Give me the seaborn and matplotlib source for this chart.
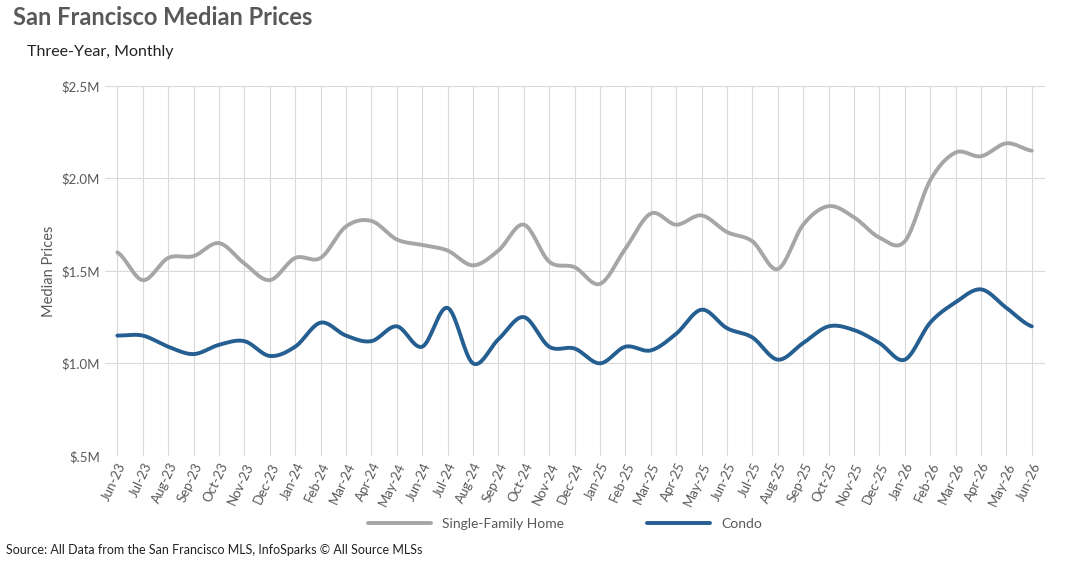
import numpy as np
import pandas as pd
import seaborn as sns
from matplotlib import pyplot as plt
from matplotlib.ticker import FuncFormatter

months = ['Jun-23', 'Jul-23', 'Aug-23', 'Sep-23', 'Oct-23', 'Nov-23', 'Dec-23',
          'Jan-24', 'Feb-24', 'Mar-24', 'Apr-24', 'May-24', 'Jun-24', 'Jul-24',
          'Aug-24', 'Sep-24', 'Oct-24', 'Nov-24', 'Dec-24', 'Jan-25', 'Feb-25',
          'Mar-25', 'Apr-25', 'May-25', 'Jun-25', 'Jul-25', 'Aug-25', 'Sep-25',
          'Oct-25', 'Nov-25', 'Dec-25', 'Jan-26', 'Feb-26', 'Mar-26', 'Apr-26',
          'May-26', 'Jun-26']
sfh = [1.60, 1.45, 1.57, 1.58, 1.65, 1.54, 1.45, 1.57, 1.57, 1.74, 1.77, 1.67,
       1.64, 1.61, 1.53, 1.61, 1.75, 1.55, 1.52, 1.43, 1.62, 1.81, 1.75, 1.80,
       1.71, 1.66, 1.51, 1.75, 1.85, 1.79, 1.68, 1.66, 1.99, 2.14, 2.12, 2.19, 2.15]
condo = [1.15, 1.15, 1.09, 1.05, 1.10, 1.12, 1.04, 1.09, 1.22, 1.15, 1.12, 1.20,
         1.09, 1.30, 1.00, 1.13, 1.25, 1.09, 1.08, 1.00, 1.09, 1.07, 1.16, 1.29,
         1.19, 1.14, 1.02, 1.11, 1.20, 1.18, 1.11, 1.02, 1.22, 1.33, 1.40, 1.30, 1.20]


def smooth(y, n=20):
    # Catmull-Rom curve through the points, like Excel's smoothed line
    y = np.asarray(y, float)
    p = np.concatenate([[y[0]], y, [y[-1]]])
    xs, ys = [], []
    for i in range(len(y) - 1):
        p0, p1, p2, p3 = p[i], p[i + 1], p[i + 2], p[i + 3]
        t = np.linspace(0, 1, n, endpoint=False)
        ys.append(0.5 * (2 * p1 + (-p0 + p2) * t + (2 * p0 - 5 * p1 + 4 * p2 - p3) * t ** 2
                         + (-p0 + 3 * p1 - 3 * p2 + p3) * t ** 3))
        xs.append(i + t)
    xs.append([len(y) - 1]); ys.append([y[-1]])
    return np.concatenate(xs), np.concatenate(ys)


frames = []
for name, vals in [('Single-Family Home', sfh), ('Condo', condo)]:
    x, y = smooth(vals)
    frames.append(pd.DataFrame({'x': x, 'y': y, 'series': name}))
df = pd.concat(frames)

sns.set_style('white')
plt.rcParams['font.family'] = ['Lato', 'DejaVu Sans']
fig = plt.figure(figsize=(10.68, 5.62), dpi=100)
ax = fig.add_axes([0.098, 0.189, 0.88, 0.658])
sns.lineplot(data=df, x='x', y='y', hue='series', sort=False, linewidth=2.8,
             palette={'Single-Family Home': '#a6a6a6', 'Condo': '#255e91'}, ax=ax)

ax.set_ylim(0.5, 2.5)
ax.set_yticks([0.5, 1.0, 1.5, 2.0, 2.5])
ax.yaxis.set_major_formatter(FuncFormatter(lambda v, _: '$.5M' if v == 0.5 else f'${v:.1f}M'))
ax.set_xlim(-0.5, len(months) - 0.5)
ax.set_xticks(range(len(months)))
ax.set_xticklabels(months, rotation=65, ha='right', rotation_mode='anchor')
ax.tick_params(labelsize=9.5, colors='#595959', length=0)
ax.grid(True, color='#d9d9d9', linewidth=0.8)
for s in ax.spines.values():
    s.set_visible(False)
ax.set_xlabel('')
ax.set_ylabel('Median Prices', color='#595959', fontsize=10.5)

ax.legend(loc='center', bbox_to_anchor=(0.49, -0.185), ncol=2, frameon=False,
          fontsize=10, labelcolor='#595959', handlelength=4.5, columnspacing=6)

fig.text(0.012, 0.955, 'San Francisco Median Prices', fontsize=17, fontweight='bold', color='#595959')
fig.text(0.025, 0.9, 'Three-Year, Monthly', fontsize=11.5, color='#222222')
fig.text(0.006, 0.015, 'Source: All Data from the San Francisco MLS, InfoSparks © All Source MLSs',
         fontsize=9, color='#222222')

fig.savefig('out.png', dpi=100, facecolor='white')
